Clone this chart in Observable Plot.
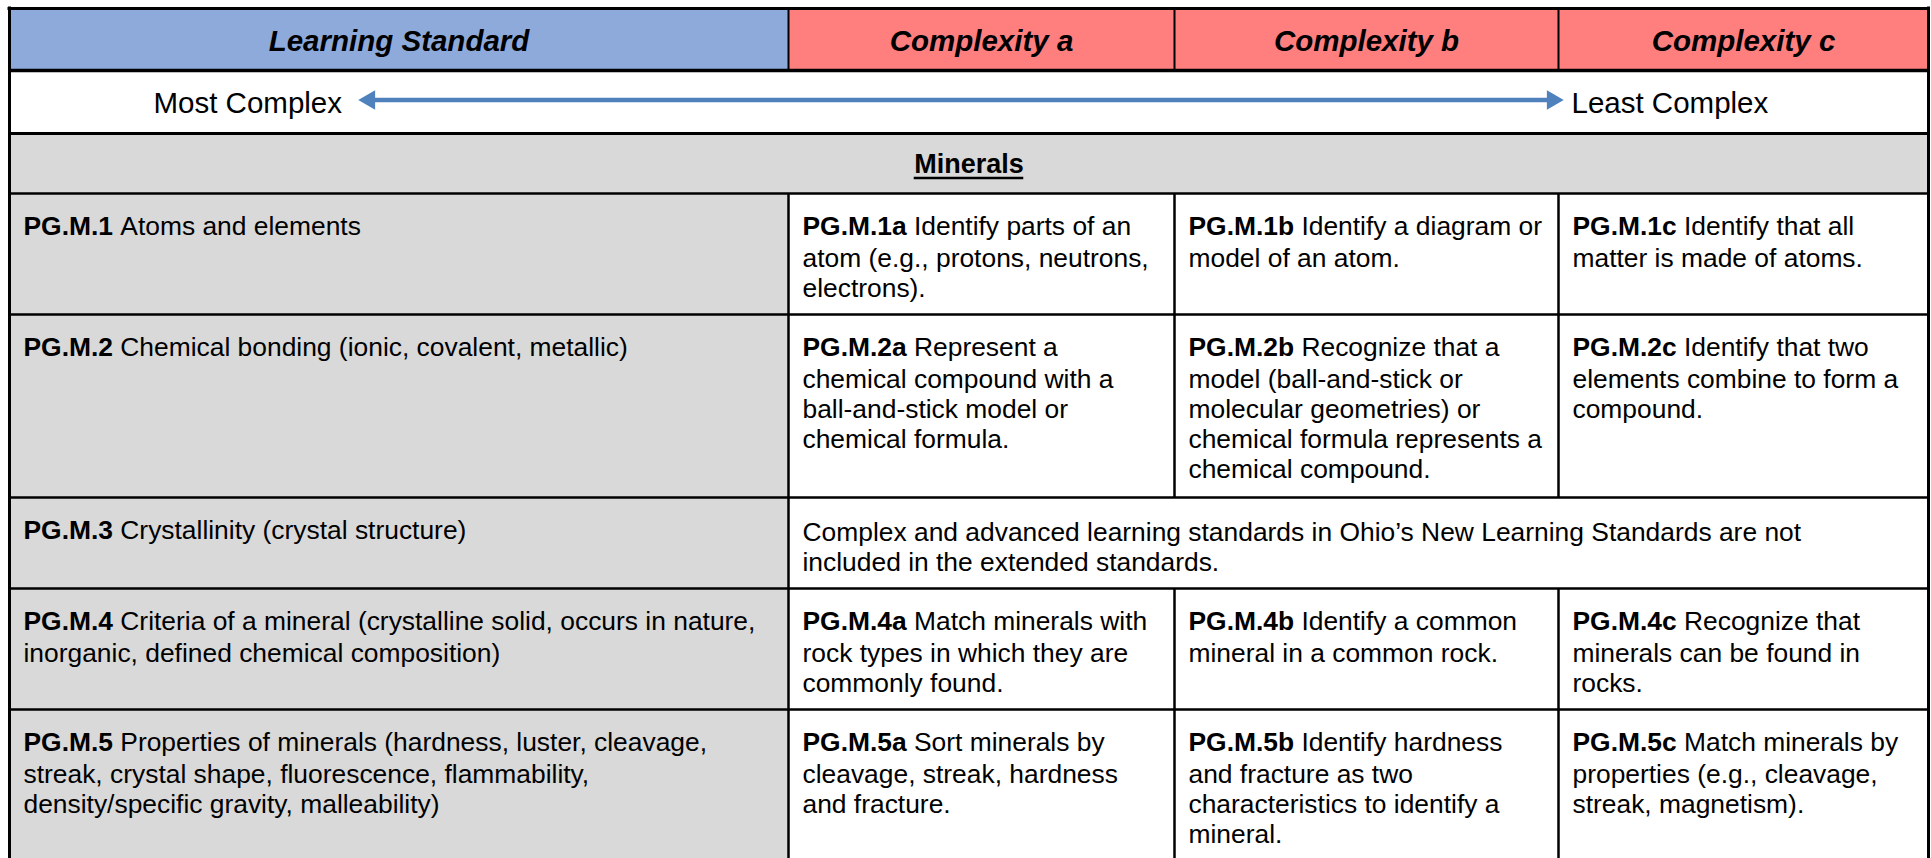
<!DOCTYPE html>
<html>
<head>
<meta charset="utf-8">
<script src="https://cdn.jsdelivr.net/npm/d3@7"></script>
<script src="https://cdn.jsdelivr.net/npm/@observablehq/plot@0.6"></script>
<style>
  html, body { margin: 0; padding: 0; background: #fff; }
  g[aria-label="arrow-shaft"], g[aria-label="arrow-heads"] { filter: drop-shadow(0px 3px 2px rgba(0,0,0,0.3)); }
</style>
</head>
<body>
<div id="chart"></div>
<script>
// ---------- content ----------
const headers = ["Learning Standard", "Complexity a", "Complexity b", "Complexity c"];
const scaleEnds = ["Most Complex", "Least Complex"];
const section = "Minerals";

const standardCodes = ["PG.M.1", "PG.M.2", "PG.M.3", "PG.M.4", "PG.M.5"];
const standardTexts = [
  "Atoms and elements",
  "Chemical bonding (ionic, covalent, metallic)",
  "Crystallinity (crystal structure)",
  "Criteria of a mineral (crystalline solid, occurs in nature,\ninorganic, defined chemical composition)",
  "Properties of minerals (hardness, luster, cleavage,\nstreak, crystal shape, fluorescence, flammability,\ndensity/specific gravity, malleability)"
];

const codesA = ["PG.M.1a", "PG.M.2a", null, "PG.M.4a", "PG.M.5a"];
const textsA = [
  "Identify parts of an\natom (e.g., protons, neutrons,\nelectrons).",
  "Represent a\nchemical compound with a\nball-and-stick model or\nchemical formula.",
  null,
  "Match minerals with\nrock types in which they are\ncommonly found.",
  "Sort minerals by\ncleavage, streak, hardness\nand fracture."
];
const codesB = ["PG.M.1b", "PG.M.2b", null, "PG.M.4b", "PG.M.5b"];
const textsB = [
  "Identify a diagram or\nmodel of an atom.",
  "Recognize that a\nmodel (ball-and-stick or\nmolecular geometries) or\nchemical formula represents a\nchemical compound.",
  null,
  "Identify a common\nmineral in a common rock.",
  "Identify hardness\nand fracture as two\ncharacteristics to identify a\nmineral."
];
const codesC = ["PG.M.1c", "PG.M.2c", null, "PG.M.4c", "PG.M.5c"];
const textsC = [
  "Identify that all\nmatter is made of atoms.",
  "Identify that two\nelements combine to form a\ncompound.",
  null,
  "Recognize that\nminerals can be found in\nrocks.",
  "Match minerals by\nproperties (e.g., cleavage,\nstreak, magnetism)."
];
const mergedNote = "Complex and advanced learning standards in Ohio\u2019s New Learning Standards are not\nincluded in the extended standards.";

// ---------- layout ----------
const W = 1931, H = 858;
const colEdges = [9, 788, 1174, 1558, 1928];
const rowEdges = [8, 70, 133, 193, 314, 497, 588, 709, 858];
const FONT = "'Liberation Sans', Arial, Helvetica, sans-serif";
const FS = 26.4, LH = 30, PADX = 14, TOPOFF = 22.5;
const HFS = 29.5, SFS = 27;
const BLUE = "#8eaadb", RED = "#ff7f7f", GRAY = "#d9d9d9";
const ARROW = "#4f81bd";

const ctx = document.createElement("canvas").getContext("2d");
function textWidth(t, weight, size) {
  ctx.font = `${weight} ${size}px 'Liberation Sans', Arial, sans-serif`;
  return ctx.measureText(t).width;
}

// backgrounds
const bg = [];
headers.forEach((h, i) => bg.push({x1: colEdges[i], x2: colEdges[i + 1], y1: rowEdges[0], y2: rowEdges[1], fill: i === 0 ? BLUE : RED}));
bg.push({x1: colEdges[0], x2: colEdges[4], y1: rowEdges[1], y2: rowEdges[2], fill: "#ffffff"});
bg.push({x1: colEdges[0], x2: colEdges[4], y1: rowEdges[2], y2: rowEdges[3], fill: GRAY});
standardCodes.forEach((c, i) => {
  bg.push({x1: colEdges[0], x2: colEdges[1], y1: rowEdges[3 + i], y2: rowEdges[4 + i], fill: GRAY});
  bg.push({x1: colEdges[1], x2: colEdges[4], y1: rowEdges[3 + i], y2: rowEdges[4 + i], fill: "#ffffff"});
});

// cell texts
const cells = [];
const cols = [[codesA, textsA], [codesB, textsB], [codesC, textsC]];
standardCodes.forEach((code, i) => {
  const top = rowEdges[3 + i];
  cells.push({col: 0, top, code, text: standardTexts[i]});
  cols.forEach(([cs, ts], j) => { if (cs[i]) cells.push({col: j + 1, top, code: cs[i], text: ts[i]}); });
});
cells.forEach(d => {
  const lines = d.text.split("\n");
  d.x0 = colEdges[d.col] + PADX;
  d.y0 = d.top + TOPOFF;
  d.first = lines[0];
  d.rest = lines.slice(1).join("\n");
  d.codeW = textWidth(d.code + " ", "bold", FS);
});
const restCells = cells.filter(d => d.rest.length);
const note = [{x0: colEdges[1] + PADX, y0: rowEdges[5] + TOPOFF, text: mergedNote}];

// section heading with underline
const sectionX = (colEdges[0] + colEdges[4]) / 2;
const sectionY = (rowEdges[2] + rowEdges[3]) / 2 + 1;
const sectionW = textWidth(section, "bold", SFS);
const underline = [{x1: sectionX - sectionW / 2, x2: sectionX + sectionW / 2, y: sectionY + 13.5}];

// borders
const hLines = [
  {y: rowEdges[0], x1: colEdges[0] - 1.5, x2: colEdges[4] + 1.5, w: 3},
  {y: rowEdges[1], x1: colEdges[0], x2: colEdges[4], w: 3.5},
  {y: rowEdges[2], x1: colEdges[0], x2: colEdges[4], w: 3},
  ...rowEdges.slice(3, 8).map(y => ({y, x1: colEdges[0], x2: colEdges[4], w: 2.5}))
];
const vLines = [
  {x: colEdges[0], y1: rowEdges[0] - 1.5, y2: H, w: 3},
  {x: colEdges[4], y1: rowEdges[0] - 1.5, y2: H, w: 3},
  ...colEdges.slice(1, 4).map(x => ({x, y1: rowEdges[0], y2: rowEdges[1], w: 2})),
  {x: colEdges[1], y1: rowEdges[3], y2: H, w: 2.5},
  ...colEdges.slice(2, 4).flatMap(x => [
    {x, y1: rowEdges[3], y2: rowEdges[5], w: 2.5},
    {x, y1: rowEdges[6], y2: H, w: 2.5}
  ])
];

// complexity scale row
const scaleY = 99.5;
const scaleLabels = [
  {x: 153, y: 103.5, text: scaleEnds[0]},
  {x: 1571, y: 103.5, text: scaleEnds[1]}
];
const arrowTips = [{x: 358, dir: -1}, {x: 1563, dir: 1}];
const HEAD = 11;

const headerLabels = headers.map((h, i) => ({x: (colEdges[i] + colEdges[i + 1]) / 2, y: (rowEdges[0] + rowEdges[1]) / 2 + 2, text: h}));

const chart = Plot.plot({
  width: W,
  height: H,
  margin: 0,
  x: {domain: [0, W], range: [0, W], axis: null},
  y: {domain: [0, H], range: [0, H], axis: null},
  color: {type: "identity"},
  style: {fontFamily: FONT, background: "#fff", overflow: "visible"},
  marks: [
    Plot.rect(bg, {x1: "x1", x2: "x2", y1: "y1", y2: "y2", fill: "fill"}),
    // headers
    Plot.text(headerLabels, {x: "x", y: "y", text: "text", fontSize: HFS, fontWeight: "bold", fontStyle: "italic", fontFamily: FONT, fill: "#000", lineAnchor: "middle"}),
    // scale row
    Plot.text(scaleLabels, {x: "x", y: "y", text: "text", fontSize: HFS, fontFamily: FONT, fill: "#000", textAnchor: "start", lineAnchor: "middle"}),
    Plot.ruleY([scaleY], {x1: arrowTips[0].x + HEAD, x2: arrowTips[1].x - HEAD, stroke: ARROW, strokeWidth: 4.5, ariaLabel: "arrow-shaft"}),
    Plot.dot(arrowTips, {x: d => d.x - d.dir * HEAD, y: () => scaleY, symbol: "triangle2", r: 9.3, rotate: d => d.dir * 90, fill: ARROW, stroke: "none", ariaLabel: "arrow-heads"}),
    // section
    Plot.text([section], {x: () => sectionX, y: () => sectionY, text: d => d, fontSize: SFS, fontWeight: "bold", fontFamily: FONT, fill: "#000", lineAnchor: "middle"}),
    Plot.ruleY(underline, {y: "y", x1: "x1", x2: "x2", stroke: "#000", strokeWidth: 2.5}),
    // cell codes (bold)
    Plot.text(cells, {x: "x0", y: "y0", text: "code", fontSize: FS, fontWeight: "bold", fontFamily: FONT, fill: "#000", textAnchor: "start", lineAnchor: "top"}),
    // first line remainder
    Plot.text(cells, {x: d => d.x0 + d.codeW, y: "y0", text: "first", fontSize: FS, fontFamily: FONT, fill: "#000", textAnchor: "start", lineAnchor: "top"}),
    // following lines
    Plot.text(restCells, {x: "x0", y: d => d.y0 + LH, text: "rest", fontSize: FS, fontFamily: FONT, fill: "#000", textAnchor: "start", lineAnchor: "top", lineHeight: LH / FS}),
    // merged note
    Plot.text(note, {x: "x0", y: "y0", text: "text", fontSize: FS, fontFamily: FONT, fill: "#000", textAnchor: "start", lineAnchor: "top", lineHeight: LH / FS}),
    // borders
    Plot.ruleY(hLines, {y: "y", x1: "x1", x2: "x2", strokeWidth: "w", stroke: "#000"}),
    Plot.ruleX(vLines, {x: "x", y1: "y1", y2: "y2", strokeWidth: "w", stroke: "#000"})
  ]
});
document.getElementById("chart").appendChild(chart);
</script>
</body>
</html>
